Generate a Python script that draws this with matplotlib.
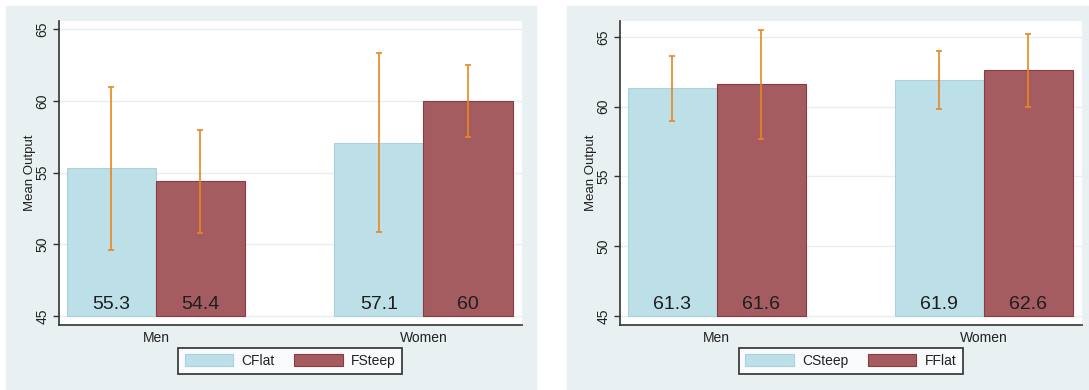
import matplotlib
matplotlib.use("Agg")
import matplotlib.pyplot as plt
import numpy as np
from matplotlib.patches import Rectangle

plt.rcParams['font.family'] = ['Liberation Sans', 'DejaVu Sans']

groups = ['Men', 'Women']

# left panel: CFlat vs FSteep
left_series = ['CFlat', 'FSteep']
left_cflat = [55.3, 57.1]
left_fsteep = [54.4, 60.0]
left_cflat_ci = [5.67, 6.25]
left_fsteep_ci = [3.58, 2.53]

# right panel: CSteep vs FFlat
right_series = ['CSteep', 'FFlat']
right_csteep = [61.3, 61.9]
right_fflat = [61.6, 62.6]
right_csteep_ci = [2.3, 2.07]
right_fflat_ci = [3.9, 2.6]

yticks = [45, 50, 55, 60, 65]

W, H = 1089, 390
BG = '#e9f0f2'
BLUE = '#bcdfe8'
BLUE_EDGE = '#aad2dd'
RED = '#a55c60'
RED_EDGE = '#8c3a40'
ORANGE = '#e8871e'


def draw_panel(ax, names, vals_a, vals_b, ci_a, ci_b, ylim):
    x = np.arange(len(groups))
    w = 0.333
    ax.set_facecolor('white')
    for yt in yticks:
        ax.axhline(yt, color='#e6eef0', lw=1.0, zorder=0)
    base = 45
    ha = [v - base for v in vals_a]
    hb = [v - base for v in vals_b]
    ax.bar(x - w / 2, ha, w, bottom=base, color=BLUE, edgecolor=BLUE_EDGE,
           lw=0.8, label=names[0], zorder=2)
    ax.bar(x + w / 2, hb, w, bottom=base, color=RED, edgecolor=RED_EDGE,
           lw=0.8, label=names[1], zorder=2)
    ax.errorbar(x - w / 2, vals_a, yerr=ci_a, fmt='none', ecolor=ORANGE,
                elinewidth=1.2, capsize=2.2, capthick=1.2, zorder=3)
    ax.errorbar(x + w / 2, vals_b, yerr=ci_b, fmt='none', ecolor=ORANGE,
                elinewidth=1.2, capsize=2.2, capthick=1.2, zorder=3)
    for xs, vals in ((x - w / 2, vals_a), (x + w / 2, vals_b)):
        for xi, v in zip(xs, vals):
            ax.annotate(f'{v:g}', xy=(xi, base), xytext=(0, 5),
                        textcoords='offset points', ha='center',
                        va='baseline', fontsize=14, color='#1e1e1e',
                        zorder=4)

    ax.set_xlim(-0.362, 1.367)
    ax.set_ylim(*ylim)
    ax.set_xticks(x)
    ax.set_xticklabels(groups, fontsize=10, color='#222222')
    ax.set_yticks(yticks)
    ax.set_yticklabels([str(t) for t in yticks], rotation=90, va='center',
                       fontsize=10, color='#222222')
    ax.tick_params(axis='x', length=0, pad=4)
    ax.tick_params(axis='y', length=4, width=1, color='#333333', pad=3)
    for side in ('top', 'right'):
        ax.spines[side].set_visible(False)
    for side in ('left', 'bottom'):
        ax.spines[side].set_color('#333333')
        ax.spines[side].set_linewidth(1.2)
    ax.set_ylabel('Mean Output', fontsize=9.5, color='#222222')
    ax.yaxis.set_label_coords(-0.05, 0.5)

    leg = ax.legend(loc='center', bbox_to_anchor=(0.5, -0.119), ncol=2,
                    fontsize=10, frameon=True, fancybox=False,
                    handlelength=3.5, handleheight=0.95, handletextpad=0.6,
                    columnspacing=1.4, borderpad=0.45, borderaxespad=0)
    leg.get_frame().set_edgecolor('#111111')
    leg.get_frame().set_linewidth(1.3)
    for t in leg.get_texts():
        t.set_color('#222222')


fig = plt.figure(figsize=(W / 100, H / 100), dpi=100)
fig.patch.set_facecolor('white')

# panel backgrounds
fig.patches.append(Rectangle((6 / W, 0), (536 - 6) / W, (H - 6) / H,
                             transform=fig.transFigure, color=BG, zorder=-10))
fig.patches.append(Rectangle((567 / W, 0), (W - 567) / W, (H - 6) / H,
                             transform=fig.transFigure, color=BG, zorder=-10))

ax_bottom = 1 - 325 / H
ax_height = (325 - 20.7) / H
ax1 = fig.add_axes([59 / W, ax_bottom, 462.7 / W, ax_height])
ax2 = fig.add_axes([620 / W, ax_bottom, 461.7 / W, ax_height])

draw_panel(ax1, left_series, left_cflat, left_fsteep,
           left_cflat_ci, left_fsteep_ci, (44.37, 65.6))
draw_panel(ax2, right_series, right_csteep, right_fflat,
           right_csteep_ci, right_fflat_ci, (44.36, 66.15))

fig.savefig('out.png', dpi=100)
